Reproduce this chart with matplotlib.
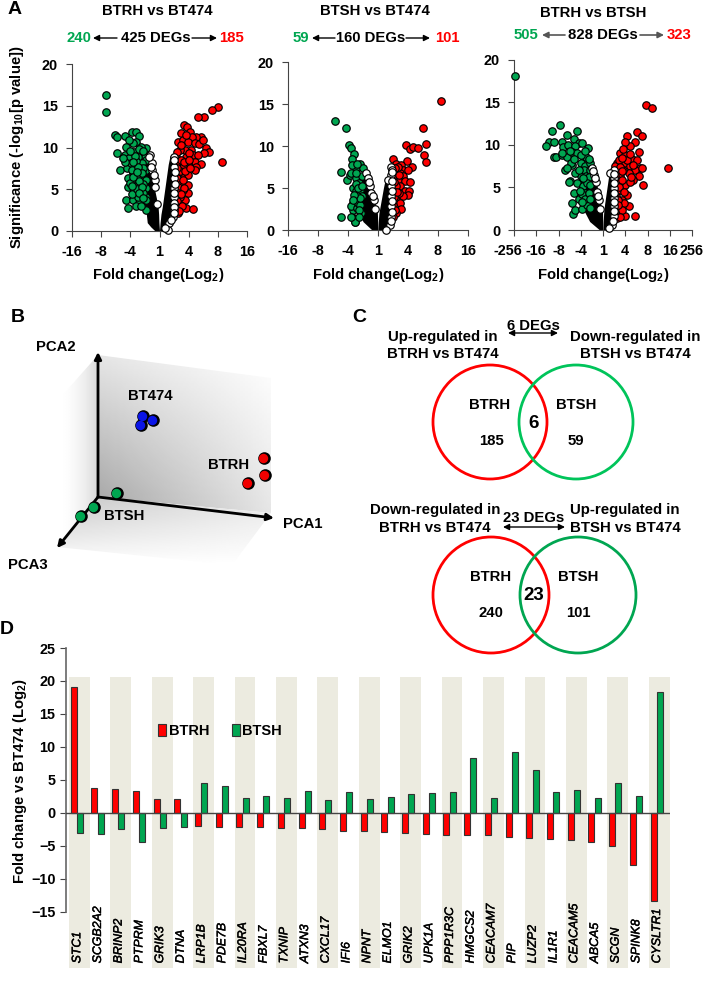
import numpy as np
import matplotlib
matplotlib.use('Agg')
import matplotlib.pyplot as plt
import matplotlib.patheffects as pe
from matplotlib.patches import Circle, Polygon
from matplotlib.transforms import ScaledTranslation

plt.rcParams['font.family'] = ['Liberation Sans', 'DejaVu Sans']
plt.rcParams['font.weight'] = 'bold'
plt.rcParams['mathtext.fontset'] = 'custom'
plt.rcParams['mathtext.bf'] = 'Liberation Sans:bold'
plt.rcParams['mathtext.rm'] = 'Liberation Sans:bold'

GREEN = '#00a651'
RED = '#ff0000'
W, H = 709, 1000

# volcano points, x is position on the tick scale (1 -> 0, 4 -> 1, 8 -> 2 ...), y is -log10 p
v1_down = [(-1.83,16.25),(-1.85,14.25),(-1.52,11.5),(-1.46,11.3),(-1.18,11.4),(-.95,11.9),(-.8,11.9),(-.69,11.4),
           (-.8,10.7),(-.91,10.5),(-1.03,10.9),(-1.45,9.4),(-.46,10.0),(-1.14,10.1),(-1.18,9.1),(-1.03,8.7),
           (-.86,9.5),(-.63,9.3),(-.51,8.9),(-1.37,7.3),(-1.11,7.5),(-.91,6.9),(-.69,8.1),(-.46,8.5),(-1.09,6.3),
           (-.86,6.1),(-.63,6.5),(-.46,7.3),(-1.09,5.3),(-.86,4.9),(-.63,4.9),(-.46,6.1),(-.46,5.1),(-.46,4.1),
           (-1.14,3.7),(-.91,3.7),(-.69,3.3),(-.46,3.7),(-.46,2.5),(-1.09,2.7),(-.74,4.1),(-.86,7.7),(-.63,7.3),
           (-.97,8.1),(-.74,8.9),(-.75,6.6),(-.55,5.6),(-.75,5.6),(-1.0,5.8),(-.95,4.4),(-.6,8.2),(-.8,8.4),
           (-.55,7.6),(-.7,6.0),(-.55,4.5),(-.8,3.0),(-.62,3.0),(-1.2,8.3),(-.95,7.3),(-.75,7.7),(-.6,6.9),(-.9,6.5),
           (-.78,5.0),(-.95,5.4),(-.6,5.3),(-.72,4.6),(-.58,4.0),(-.85,9.0),(-.65,10.1),(-1.0,9.6),(-.72,9.8),
           (-1.25,8.8),(-.9,8.3),(-.55,9.6),(-.78,7.1)]
v1_up = [(2.15,8.3),(2.0,14.8),(1.79,14.5),(1.52,13.7),(1.33,13.7),(.83,12.7),(.93,12.5),(1.43,11.3),(1.26,11.3),
         (1.06,11.8),(1.12,11.3),(.74,11.7),(.63,10.6),(.8,10.9),(.97,10.7),(1.6,10.0),(1.71,9.5),(1.54,9.4),
         (1.2,10.5),(1.09,9.7),(.86,9.7),(.69,9.7),(.57,8.9),(.91,8.9),(1.14,9.1),(1.31,9.1),(1.2,8.3),(1.41,8.0),
         (1.26,7.7),(.97,8.1),(.8,7.7),(1.2,7.3),(.97,6.7),(.74,6.5),(.63,6.9),(.97,5.5),(.74,5.7),(.99,4.5),
         (.8,4.9),(.86,3.7),(.69,4.1),(.91,2.7),(1.14,2.6),(.63,2.1),(.61,2.9),(.69,3.1),(.57,8.1),(.6,9.5),(.75,8.5),
         (.85,8.3),(1.0,9.3),(.7,7.2),(.88,7.2),(1.05,7.6),(.6,6.3),(.82,6.1),(.65,5.3),(.85,5.1),(.62,4.5),(.75,4.4),
         (.6,3.6),(.78,3.0),(.68,2.4),(.9,11.5),(.75,10.3),(1.35,10.4),(1.5,10.9),(1.0,8.5),(.6,7.6)]
v1_ns = [(-.34,9.1),(-.26,8.1),(-.25,7.3),(-.17,6.1),(-.15,5.3),(-.08,3.2),(-.28,7.7),(-.2,6.7),(.51,8.9),(.51,7.7),
         (.51,6.3),(.51,5.1),(.51,4.1),(.51,3.3),(.51,2.5),(.46,1.7),(.34,.9),(.29,.1),(-.36,8.9),(.49,8.5),(.53,7.1),
         (.53,5.6),(.51,4.6),(.51,2.9),(.51,2.1),(.41,1.3),(.2,.3)]

v2_down = [(-1.44,13.0),(-1.08,12.1),(-.97,10.1),(-.91,9.8),(-.8,9.1),(-.86,8.5),(-1.24,6.9),(-1.02,6.0),(-.93,6.6),
           (-.73,7.3),(-.6,7.9),(-1.23,1.5),(-.88,1.5),(-.77,1.0),(-.82,3.2),(-.82,2.4),(-.66,3.6),(-.86,7.7),
           (-.5,7.4),(-.89,6.8),(-.72,6.2),(-.83,5.0),(-.72,4.6),(-.89,2.8),(-.7,2.6),(-.56,2.0),(-.78,1.0),
           (-.91,1.6),(-.78,3.6),(-.67,3.2),(-.65,5.6),(-.6,4.8),(-.55,6.4),(-.6,3.0),(-.55,4.0),(-.75,5.5),(-.7,4.0),
           (-.6,3.8),(-.75,6.8),(-.68,5.0),(-.62,2.4),(-.55,5.2),(-.7,7.8),(-.8,4.2),(-.85,3.6),(-.65,1.6)]
v2_up = [(2.09,15.3),(1.5,12.1),(1.59,10.2),(1.52,8.9),(1.59,8.1),(.92,10.1),(1.08,9.6),(1.17,9.9),(1.33,9.8),
         (.97,8.2),(1.14,7.5),(.5,8.4),(.61,7.9),(.78,7.7),(.83,7.2),(1.0,7.2),(.72,6.8),(.83,6.4),(.67,6.0),
         (.89,5.8),(1.06,5.7),(.72,5.2),(.89,4.6),(1.03,4.7),(1.0,4.2),(.83,4.0),(.7,4.4),(.61,3.6),(.72,3.2),
         (.78,2.5),(.61,2.0),(.56,6.8),(.67,7.5),(.61,5.2),(.55,7.4),(.5,6.3),(.52,5.7),(.5,4.7),(.52,3.9),(.5,3.0),
         (.55,2.4),(.5,1.6),(.7,6.5),(.62,4.5)]
v2_ns = [(-.39,6.8),(-.33,6.2),(-.26,5.2),(-.22,4.4),(-.14,3.6),(-.11,2.5),(.44,7.5),(.44,6.5),(.44,5.2),(.44,4.0),
         (.44,2.8),(.44,1.6),(.41,.6),(.28,.05),(.33,5.9),(.48,7.2),(.46,6.9),(.45,5.8),(.45,4.6),(.45,3.4),(.45,2.2),
         (.43,1.1),(-.3,5.7),(-.18,4.0)]

v3_down = [(-3.97,18.1),(-1.94,12.4),(-2.31,11.6),(-1.19,11.6),(-1.61,11.2),(-2.42,10.3),(-2.55,9.9),(-2.18,10.3),
           (-1.84,10.4),(-1.31,10.7),(-1.09,10.2),(-1.81,9.8),(-1.58,10.0),(-1.24,9.9),(-.94,10.2),(-.69,9.6),
           (-2.21,8.6),(-2.13,8.6),(-1.84,8.8),(-1.61,8.6),(-1.39,9.2),(-1.16,9.0),(-.87,8.6),(-.75,8.6),(-1.69,7.1),
           (-1.39,7.7),(-1.01,7.9),(-1.49,5.8),(-1.54,5.7),(-1.31,4.3),(-1.39,3.2),(-1.34,1.9),(-1.28,2.4),(-.94,2.5),
           (-1.09,3.6),(-1.16,5.5),(-1.01,6.3),(-.79,7.5),(-.57,7.9),(-1.46,7.9),(-1.61,7.3),(-1.24,6.7),(-.87,7.1),
           (-.75,6.3),(-.9,5.2),(-.8,4.3),(-.95,4.2),(-1.05,4.6),(-.7,3.0),(-.6,7.0),(-.65,6.2),(-.72,5.5),(-.6,5.3),
           (-.8,3.6),(-.65,4.4),(-.6,3.7),(-.9,6.1),(-1.1,7.1),(-.65,8.3),(-1.0,8.8),(-.8,9.3),(-1.3,8.3),(-1.5,9.3),
           (-1.85,9.0),(-.95,3.3),(-.6,2.6)]
v3_up = [(2.94,7.3),(1.94,14.65),(2.22,14.3),(1.55,11.5),(1.76,11.05),(1.07,11.1),(1.45,10.4),(1.22,9.9),(1.0,10.3),
         (.78,9.0),(1.64,9.2),(1.0,8.8),(1.3,8.4),(1.52,8.2),(.63,7.85),(.93,7.85),(1.22,7.5),(1.67,7.3),(1.45,7.1),
         (1.75,7.3),(1.15,6.7),(1.6,6.3),(1.37,5.9),(1.78,5.3),(1.0,5.3),(1.07,4.1),(.85,3.55),(1.15,2.8),(1.45,1.7),
         (1.0,1.6),(.7,2.0),(.93,3.2),(.63,4.7),(.78,6.3),(.63,7.1),(.55,7.5),(.78,4.7),(.85,2.4),(.55,6.3),(.6,3.0),
         (.55,2.0),(.7,5.5),(.85,5.9),(.9,7.0),(.7,8.2),(.6,4.0),(.55,5.2),(.5,4.2),(.52,3.3),(.5,2.6),(.5,1.8),
         (.62,1.4),(.68,3.5),(.75,7.4),(.85,6.9),(.72,5.0),(.95,4.5),(1.2,5.6),(1.25,6.2),(1.35,7.6),(1.1,8.2),
         (.85,8.5),(.9,9.5),(1.2,8.9),(.68,2.9),(.75,1.5)]
v3_ns = [(-.49,7.3),(-.42,6.5),(-.31,5.6),(-.27,4.5),(-.19,3.55),(-.12,2.5),(.48,7.1),(.48,6.1),(.48,4.9),(.48,3.75),
         (.48,2.8),(.48,1.6),(.4,.6),(.25,.2),(.33,6.7),(.48,6.6),(.48,5.5),(.48,4.3),(.48,3.3),(.48,2.2),(.45,1.1),
         (-.37,6.1),(-.23,4.0),(-.45,6.9)]

# outline of the solid black cloud of non significant genes: (sig, outer x, inner x) for each arm
v1_left = [(0,-.15,0),(.5,-.3,-.01),(1,-.42,-.02),(2,-.45,-.03),(3,-.5,-.05),(5,-.8,-.17),(7,-.95,-.25),(8,-.9,-.3),(9.5,-.55,-.36)]
v1_right = [(0,.25,0),(1,.45,.02),(2,.47,.05),(3,.6,.1),(5,.75,.18),(7,.85,.26),(8,.8,.3),(9,.6,.36)]
v2_left = [(0,-.2,0),(1,-.5,-.01),(2,-.62,-.02),(3,-.7,-.08),(4,-.75,-.14),(5,-.75,-.2),(6,-.65,-.28),(6.8,-.45,-.35)]
v2_right = [(0,.3,0),(1,.45,.01),(2,.47,.03),(3,.55,.08),(5,.55,.18),(6.2,.4,.25)]
v3_left = [(0,-.15,0),(1,-.6,-.01),(2,-.8,-.02),(3,-1.0,-.1),(4,-1.05,-.17),(5,-1.1,-.25),(6,-1.1,-.32),(7.5,-.95,-.43),(8.5,-.45,-.5)]
v3_right = [(0,.25,0),(1,.4,.01),(2,.43,.03),(3,.6,.07),(5,.75,.18),(6.8,.7,.28)]

ticks_16 = ['-16', '-8', '-4', '1', '4', '8', '16']
ticks_256 = ['-256', '-16', '-8', '-4', '1', '4', '8', '16', '256']

# PCA scores as seen in the projection, % of the back wall
pca_bt474 = [(25.4,57),(31.2,54.2),(24.3,50.7)]
pca_btrh = [(95.4,27.5),(96,15.5),(86.1,9.9)]
pca_btsh = [(10.4,2.8),(-2.9,-7),(-10.4,-13.4)]

genes = ['STC1','SCGB2A2','BRINP2','PTPRM','GRIK3','DTNA','LRP1B','PDE7B','IL20RA','FBXL7','TXNIP','ATXN3','CXCL17',
         'IFI6','NPNT','ELMO1','GRIK2','UPK1A','PPP1R3C','HMGCS2','CEACAM7','PIP','LUZP2','IL1R1','CEACAM5','ABCA5',
         'SCGN','SPINK8','CYSLTR1']
btrh = [19.1,3.8,3.7,3.4,2.1,2.1,-2.0,-2.1,-2.2,-2.2,-2.3,-2.3,-2.5,-2.8,-2.8,-2.9,-3.0,-3.2,-3.4,-3.4,-3.4,-3.7,
        -3.8,-4.0,-4.1,-4.4,-5.0,-7.9,-13.3]
btsh = [-3.1,-3.2,-2.4,-4.4,-2.3,-2.1,4.5,4.1,2.3,2.5,2.2,3.3,2.0,3.2,2.1,2.4,2.8,3.0,3.1,8.3,2.3,9.2,6.5,3.2,3.5,
        2.2,4.5,2.6,18.4]

fig = plt.figure(figsize=(W / 100, H / 100), dpi=100)


def px_axes(x0, x1, y_top, y_bot):
    return fig.add_axes([x0 / W, 1 - y_bot / H, (x1 - x0) / W, (y_bot - y_top) / H])


# page layer in pixels, for labels, arrows and the panel B box
bg = fig.add_axes([0, 0, 1, 1], zorder=0)
bg.set_xlim(0, W)
bg.set_ylim(H, 0)
bg.axis('off')


def txt(x, y, s, size=10.7, color='black', **kw):
    bg.text(x, y, s, fontsize=size, color=color, ha='center', va='center', **kw)


def arrow(x0, y0, x1, y1, color='black', style='-|>', lw=1.0, scale=9):
    bg.annotate('', xy=(x1, y1), xytext=(x0, y0),
                arrowprops=dict(arrowstyle=style, color=color, lw=lw, shrinkA=0, shrinkB=0, mutation_scale=scale))


def volcano(box, down, up, ns, left, right, labels):
    ax = px_axes(*box)
    half = (len(labels) - 1) / 2
    for arm in (left, right):
        a = np.array(arm)
        ax.fill_betweenx(a[:, 0], a[:, 1], a[:, 2], color='black', zorder=2, lw=0)
    for pts, col, z in ((down, GREEN, 3), (up, RED, 3), (ns, 'white', 4)):
        p = np.array(pts)
        ax.scatter(p[:, 0], p[:, 1], s=29, c=col, edgecolors='black', linewidths=0.85, zorder=z, clip_on=False)
    ax.set_xlim(-half, half)
    ax.set_ylim(0, 20)
    ax.set_xticks(np.arange(-half, half + 1))
    ax.set_xticklabels(labels)
    ax.set_yticks([0, 5, 10, 15, 20])
    ax.tick_params(labelsize=10.4, length=4, width=0.8, color='#444444', pad=6)
    for s in ('top', 'right'):
        ax.spines[s].set_visible(False)
    for s in ('left', 'bottom'):
        ax.spines[s].set_color('#444444')
    ax.patch.set_alpha(0)
    return ax


volcano((72, 247, 64, 231), v1_down, v1_up, v1_ns, v1_left, v1_right, ticks_16)
volcano((288, 468, 62, 230), v2_down, v2_up, v2_ns, v2_left, v2_right, ticks_16)
ax3 = volcano((514, 692, 60, 230), v3_down, v3_up, v3_ns, v3_left, v3_right, ticks_256)
# -256 sits left of its tick so it clears -16
lab = ax3.get_xticklabels()[0]
lab.set_transform(lab.get_transform() + ScaledTranslation(-6 / 100, 0, fig.dpi_scale_trans))

txt(15, 10, 'A', 14)
txt(157, 11, 'BTRH vs BT474')
txt(375, 11, 'BTSH vs BT474')
txt(593, 13, 'BTRH vs BTSH')
txt(79, 38, '240', color=GREEN)
txt(156, 38, '425 DEGs')
txt(231, 38, '185', color=RED)
arrow(117, 38, 93, 38)
arrow(192, 38, 217, 38)
txt(301, 38, '59', color=GREEN)
txt(371, 38, '160 DEGs')
txt(447, 38, '101', color=RED)
arrow(335, 38, 312, 38)
arrow(406, 38, 430, 38)
txt(526, 35, '505', color=GREEN)
txt(603, 35, '828 DEGs')
txt(679, 35, '323', color=RED)
arrow(565, 35, 542, 35, color='#555555', lw=1.2)
arrow(640, 35, 664, 35, color='#555555', lw=1.2)
for cx in (158, 378, 603):
    txt(cx, 275, r'Fold change(Log$_{\mathbf{2}}$)')
txt(17, 147, r'Significance (-log$_{\mathbf{10}}$[p value])', rotation=90)

# panel B box: three shaded walls
xx, yy = np.meshgrid(np.linspace(0, 1, 64), np.linspace(0, 1, 64))
back = 0.36 * (1 - xx) * yy + 0.1 * (1 - xx) * (1 - yy) + 0.1 * xx * yy
walls = [
    ([(98, 355), (271, 378), (271, 513), (98, 497)], back, (98, 271, 513, 355)),
    ([(60, 398), (98, 355), (98, 497), (57, 547)], xx ** 2 * 0.15, (57, 98, 547, 355)),
    ([(98, 497), (271, 513), (232, 565), (57, 547)], (1 - yy) * (1 - xx * 0.6) * 0.22, (57, 271, 565, 497)),
]
for corners, shade, ext in walls:
    im = bg.imshow(shade, extent=ext, cmap='gray_r', vmin=0, vmax=1, aspect='auto', origin='upper', zorder=0)
    im.set_clip_path(Polygon(corners, transform=bg.transData))
bg.set_xlim(0, W)
bg.set_ylim(H, 0)
arrow(98, 497, 98, 352, lw=2, scale=10)
arrow(98, 497, 274, 518, lw=2, scale=10)
arrow(98, 497, 57, 548, lw=2, scale=10)
txt(18, 317, 'B', 14)
txt(56, 347, 'PCA2')
txt(150, 396, 'BT474')
txt(229, 465, 'BTRH')
txt(124, 516, 'BTSH')
txt(303, 524, 'PCA1')
txt(28, 565, 'PCA3')

ax_b = px_axes(98, 271, 355, 497)
ax_b.set_xlim(0, 100)
ax_b.set_ylim(0, 100)
ax_b.axis('off')
for pts, col in ((pca_bt474, '#0a14e6'), (pca_btrh, '#f00000'), (pca_btsh, '#00a651')):
    p = np.array(pts)
    ax_b.scatter(p[:, 0] + 0.7, p[:, 1] - 0.3, s=82, c='black', clip_on=False, zorder=3, lw=0)
    ax_b.scatter(p[:, 0], p[:, 1], s=46, c=col, clip_on=False, zorder=4, lw=0)

# panel C venn diagrams
for cx, cy, r, col in ((490, 422, 57, RED), (576, 422, 57, '#00c45a'), (491, 595, 58, RED), (578, 595, 58, GREEN)):
    bg.add_patch(Circle((cx, cy), r, fill=False, ec=col, lw=2.0, zorder=2))
txt(359, 318, 'C', 14)
txt(533, 326, '6 DEGs')
arrow(508, 333, 558, 333, style='<|-|>')
txt(443, 337, 'Up-regulated in', 10.8)
txt(443, 354, 'BTRH vs BT474', 10.8)
txt(635, 337, 'Down-regulated in', 10.8)
txt(635, 354, 'BTSH vs BT474', 10.8)
txt(490, 405, 'BTRH')
txt(576, 405, 'BTSH')
txt(491, 441, '185')
txt(576, 441, '59')
txt(534, 423, '6', 13.5)
txt(435, 510, 'Down-regulated in', 10.8)
txt(435, 528, 'BTRH vs BT474', 10.8)
txt(534, 518, '23 DEGs')
arrow(503, 527, 565, 527, style='<|-|>')
txt(625, 510, 'Up-regulated in', 10.8)
txt(625, 528, 'BTSH vs BT474', 10.8)
txt(491, 577, 'BTRH')
txt(578, 577, 'BTSH')
txt(491, 613, '240')
txt(578, 613, '101')
txt(534, 595, '23', 13.5)

# panel D
ax_d = px_axes(66, 669.5, 648, 968)
ax_d.patch.set_alpha(0)
n = len(genes)
pos = np.arange(n)
for i in pos[::2]:
    ax_d.axvspan(i - 0.5, i + 0.5, ymin=0, ymax=(20.6 + 23.5) / 48.5, color='#ecebe0', lw=0, zorder=0)
ax_d.bar(pos - 0.27, btrh, 0.29, color=RED, edgecolor='#333333', linewidth=0.8, zorder=2, label='BTRH')
ax_d.bar(pos + 0.03, btsh, 0.29, color=GREEN, edgecolor='#333333', linewidth=0.8, zorder=2, label='BTSH')
ax_d.axhline(0, color='#444444', lw=1, zorder=3)
ax_d.set_xlim(-0.645, n - 0.5)
ax_d.set_ylim(-23.5, 25)
ax_d.set_yticks(np.arange(-15, 26, 5))
ax_d.set_xticks([])
ax_d.tick_params(labelsize=10.4, length=4, width=0.8, color='#444444')
for s in ('top', 'right', 'bottom'):
    ax_d.spines[s].set_visible(False)
ax_d.spines['left'].set_bounds(-15, 25)
ax_d.spines['left'].set_color('#666666')
ax_d.spines['left'].set_linewidth(1.2)
for i, g in zip(pos, genes):
    ax_d.text(i - 0.1, -22.8, g, rotation=90, style='italic', fontweight='normal', fontsize=8.9, ha='center', va='bottom',
              path_effects=[pe.withStroke(linewidth=0.3, foreground='black')])
ax_d.legend(loc='upper left', bbox_to_anchor=(0.153, 0.762), ncol=2, frameon=False, fontsize=10.5, handlelength=0.55,
            handleheight=0.85, handletextpad=0.15, columnspacing=1.55, borderpad=0, borderaxespad=0)
txt(7, 630, 'D', 14)
txt(20, 781, r'Fold change vs BT474 (Log$_{\mathbf{2}}$)', rotation=90)

fig.savefig('out.png', dpi=100)
